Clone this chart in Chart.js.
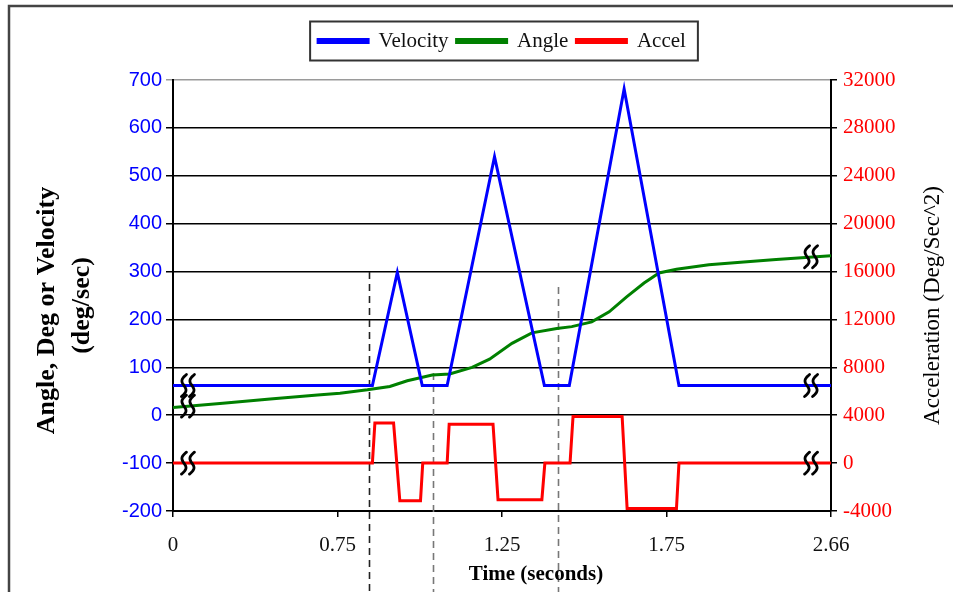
<!DOCTYPE html>
<html>
<head>
<meta charset="utf-8">
<title>Velocity, Angle and Acceleration</title>
<script src="https://cdn.jsdelivr.net/npm/chart.js@4/dist/chart.umd.min.js"></script>
<style>
  html, body { margin: 0; padding: 0; background: #fff; }
  #wrap { width: 953px; height: 592px; }
</style>
</head>
<body>
<div id="wrap"><canvas id="motionChart" width="953" height="592"></canvas></div>
<script>
// x runs in samples, the labelled ticks are 66 samples apart
const xTickLabels = ["0", "0.75", "1.25", "1.75", "2.66"];
const xTickStep = 66;
const xMax = 264;

// Velocity (deg/sec), left axis
const velocityX = [0, 80, 90, 100, 110, 129, 149, 159, 181, 203, 264];
const velocityY = [62, 62, 298, 62, 62, 540, 62, 62, 681, 62, 62];

// Angle (deg), left axis
const angleX = [0, 20, 39, 58, 67, 78, 87, 94, 104, 111, 120, 127, 136, 144, 154, 160, 168, 175, 182, 189, 195, 202, 215, 229, 242, 264];
const angleY = [16, 25, 34, 42, 46, 53, 60, 72, 84, 86, 100, 117, 150, 172, 181, 185, 195, 216, 247, 276, 297, 305, 314, 320, 325, 333];

// Acceleration (deg/sec^2), right axis
const accelX = [0, 80, 81, 88.5, 91, 99.3, 100.2, 110, 110.8, 128.4, 130.4, 148, 149.2, 159.3, 160.5, 180.2, 182.2, 202, 203, 264];
const accelY = [0, 0, 3350, 3350, -3150, -3150, 0, 0, 3250, 3250, -3050, -3050, 0, 0, 3900, 3900, -3800, -3800, 0, 0];

// dashed marker lines: x in samples, top in left-axis units
const markerX = [78.5, 104.2, 154.5];
const markerTop = [299, 88, 268];
const markerColor = ["#222", "#777", "#777"];

// axis-break marks sitting on each trace at both ends
const breakX = [6, 256];
const breakVelocity = [62, 62];
const breakAngle = [19, 331];
const breakAccel = [0, 0];

const leftTitle = ["Angle, Deg or Velocity", "(deg/sec)"];
const rightTitle = "Acceleration (Deg/Sec^2)";
const xTitle = "Time (seconds)";

function toPoints(xs, ys) {
  return xs.map((x, i) => ({ x: x, y: ys[i] }));
}

// two small S strokes, the usual "axis broken" sign
function drawBreak(ctx, cx, cy) {
  ctx.save();
  ctx.strokeStyle = "#000";
  ctx.lineWidth = 2.8;
  ctx.lineCap = "round";
  [-4, 4].forEach(function (dx) {
    ctx.beginPath();
    for (let i = 0; i <= 24; i++) {
      const t = i / 24;
      const px = cx + dx - 3.2 * Math.sin(t * Math.PI * 2) + (0.5 - t) * 5;
      const py = cy - 11 + 22 * t;
      if (i === 0) ctx.moveTo(px, py);
      else ctx.lineTo(px, py);
    }
    ctx.stroke();
  });
  ctx.restore();
}

function drawRotated(ctx, text, x, y) {
  ctx.save();
  ctx.translate(x, y);
  ctx.rotate(-Math.PI / 2);
  ctx.fillText(text, 0, 0);
  ctx.restore();
}

const decorations = {
  id: "decorations",
  beforeDatasetsDraw(chart) {
    const ctx = chart.ctx;
    const xs = chart.scales.x;
    const ys = chart.scales.y;
    ctx.save();
    ctx.lineWidth = 1.6;
    ctx.setLineDash([7, 5]);
    markerX.forEach(function (mx, i) {
      const px = Math.round(xs.getPixelForValue(mx)) + 0.5;
      ctx.strokeStyle = markerColor[i];
      ctx.beginPath();
      ctx.moveTo(px, ys.getPixelForValue(markerTop[i]));
      ctx.lineTo(px, chart.height);
      ctx.stroke();
    });
    ctx.restore();
  },
  afterDatasetsDraw(chart) {
    const ctx = chart.ctx;
    const xs = chart.scales.x;
    const ys = chart.scales.y;
    const ys1 = chart.scales.y1;
    breakX.forEach(function (bx, i) {
      const px = xs.getPixelForValue(bx);
      drawBreak(ctx, px, ys.getPixelForValue(breakVelocity[i]));
      drawBreak(ctx, px, ys.getPixelForValue(breakAngle[i]));
      drawBreak(ctx, px, ys1.getPixelForValue(breakAccel[i]));
    });
  },
  afterDraw(chart) {
    const ctx = chart.ctx;
    const area = chart.chartArea;
    const cy = (area.top + area.bottom) / 2;
    const cx = (area.left + area.right) / 2;
    ctx.save();

    // outer frame (top and left edges are visible)
    ctx.strokeStyle = "#444";
    ctx.lineWidth = 2.5;
    ctx.beginPath();
    ctx.moveTo(9, chart.height);
    ctx.lineTo(9, 6);
    ctx.lineTo(chart.width, 6);
    ctx.stroke();

    // box round the legend
    const boxes = chart.legend.legendHitBoxes;
    if (boxes && boxes.length) {
      const first = boxes[0];
      const last = boxes[boxes.length - 1];
      const midY = first.top + first.height / 2;
      ctx.strokeStyle = "#333";
      ctx.lineWidth = 2;
      ctx.strokeRect(first.left - 8, midY - 19.5, last.left + last.width + 12 - (first.left - 8), 39);
    }

    // axis titles
    ctx.fillStyle = "#000";
    ctx.textAlign = "center";
    ctx.textBaseline = "middle";
    ctx.font = "bold 26px 'Liberation Serif'";
    drawRotated(ctx, leftTitle[0], area.left - 126, cy + 15);
    drawRotated(ctx, leftTitle[1], area.left - 91, cy + 10);
    ctx.font = "23px 'Liberation Serif'";
    drawRotated(ctx, rightTitle, area.right + 102, cy + 10);
    ctx.font = "bold 21px 'Liberation Serif'";
    ctx.fillText(xTitle, cx + 34, area.bottom + 64);
    ctx.restore();
  },
};

const ctx = document.getElementById("motionChart");
new Chart(ctx, {
  type: "line",
  data: {
    datasets: [
      {
        label: "Velocity",
        data: toPoints(velocityX, velocityY),
        yAxisID: "y",
        borderColor: "#0000ff",
        backgroundColor: "#0000ff",
        borderWidth: 3,
      },
      {
        label: "Angle",
        data: toPoints(angleX, angleY),
        yAxisID: "y",
        borderColor: "#008000",
        backgroundColor: "#008000",
        borderWidth: 3,
      },
      {
        label: "Accel",
        data: toPoints(accelX, accelY),
        yAxisID: "y1",
        borderColor: "#ff0000",
        backgroundColor: "#ff0000",
        borderWidth: 3,
      },
    ],
  },
  options: {
    responsive: false,
    animation: false,
    elements: { point: { radius: 0 }, line: { tension: 0 } },
    layout: { padding: { top: 22.5, left: 0, right: 0, bottom: 0 } },
    plugins: {
      tooltip: { enabled: false },
      legend: {
        position: "top",
        fullSize: false,
        weight: 3000,
        labels: {
          boxWidth: 50,
          boxHeight: 3,
          padding: 8,
          color: "#111",
          font: { family: "'Liberation Serif'", size: 21 },
        },
      },
      // empty title only keeps a gap between legend and plot
      title: {
        display: true,
        text: "",
        weight: 2000,
        padding: 0,
        font: { size: 18.5, lineHeight: 1 },
      },
    },
    scales: {
      x: {
        type: "linear",
        min: 0,
        max: xMax,
        afterFit(scale) {
          scale.height = 81;
        },
        ticks: {
          stepSize: xTickStep,
          autoSkip: false,
          maxRotation: 0,
          padding: 16,
          color: "#111",
          font: { family: "'Liberation Serif'", size: 21 },
          callback: function (value) {
            return xTickLabels[Math.round(value / xTickStep)];
          },
        },
        grid: { drawOnChartArea: false, tickLength: 6, color: "#000", lineWidth: 1.5 },
        border: { color: "#000", width: 2 },
      },
      y: {
        position: "left",
        min: -200,
        max: 700,
        afterFit(scale) {
          scale.width = 173;
        },
        ticks: {
          stepSize: 100,
          padding: 4,
          color: "#0000ff",
          font: { family: "'Liberation Sans'", size: 20 },
        },
        grid: {
          color: (c) => (c.tick && c.tick.value === 700 ? "#9a9a9a" : "#000"),
          lineWidth: 1.5,
          tickLength: 7,
        },
        border: { color: "#000", width: 2 },
      },
      y1: {
        position: "right",
        min: -4000,
        max: 32000,
        afterFit(scale) {
          scale.width = 122;
        },
        ticks: {
          stepSize: 4000,
          padding: 6,
          color: "#ff0000",
          font: { family: "'Liberation Serif'", size: 21 },
          callback: function (value) {
            return String(value);
          },
        },
        grid: { drawOnChartArea: false, tickLength: 6, color: "#000", lineWidth: 1.5 },
        border: { color: "#000", width: 2 },
      },
    },
  },
  plugins: [decorations],
});
</script>
</body>
</html>
